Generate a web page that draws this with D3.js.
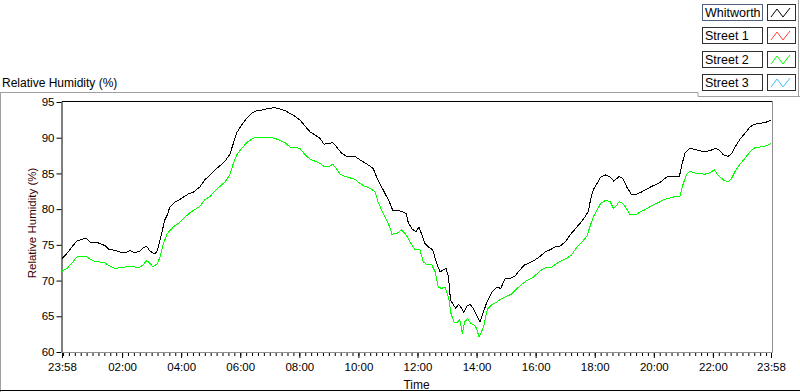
<!DOCTYPE html>
<html>
<head>
<meta charset="utf-8">
<script src="https://cdn.jsdelivr.net/npm/d3@7"></script>
<style>
  body { margin: 0; background: #fff; }
  svg { display: block; font-family: "Liberation Sans", Arial, sans-serif; }
  .axis path { display: none; }
</style>
</head>
<body>
<div id="rh_chart"></div>
<script>
// readings taken every ~10 min, start 23:58 and end 23:58 the next day
var whitworthTimes = ["23:58","00:08","00:18","00:28","00:38","00:47","00:55","01:05","01:15","01:25",
  "01:33","01:46","01:56","02:06","02:16","02:26","02:36","02:43","02:50","02:57",
  "03:07","03:12","03:17","03:22","03:27","03:32","03:37","03:48","03:58","04:14",
  "04:25","04:38","04:48","04:59","05:09","05:19","05:29","05:39","05:46","05:53",
  "06:03","06:13","06:23","06:33","06:47","06:57","07:11","07:21","07:31","07:41",
  "07:51","08:01","08:12","08:22","08:32","08:42","08:50","08:59","09:08","09:16",
  "09:26","09:36","09:53","10:03","10:13","10:24","10:30","10:37","10:45","10:54",
  "11:03","11:10","11:18","11:28","11:37","11:41","11:48","11:57","12:03","12:09",
  "12:15","12:22","12:31","12:38","12:46","12:52","12:58","13:03","13:07","13:13",
  "13:18","13:23","13:30","13:34","13:40","13:47","13:53","14:00","14:07","14:14",
  "14:21","14:31","14:41","14:49","14:58","15:08","15:18","15:28","15:38","15:48",
  "15:59","16:09","16:19","16:29","16:39","16:49","17:00","17:10","17:20","17:30",
  "17:40","17:47","17:52","17:57","18:04","18:12","18:21","18:31","18:39","18:45",
  "18:50","18:58","19:05","19:15","19:25","19:35","19:46","19:56","20:06","20:16",
  "20:26","20:40","20:52","20:57","21:03","21:13","21:27","21:44","21:54","22:06",
  "22:14","22:21","22:31","22:38","22:45","22:55","23:05","23:15","23:25","23:36",
  "23:49","23:58"];
var whitworthRH = [73.1,73.8,74.7,75.5,75.8,75.9,75.4,75.4,75.2,74.9,
  74.4,74.2,74.0,73.9,74.2,73.9,74.1,74.6,74.8,74.1,
  73.7,74.3,75.7,77.1,78.5,79.2,80.3,81.0,81.4,82.1,
  82.4,83.1,84.1,84.8,85.5,86.1,86.7,87.7,89.2,90.7,
  91.8,92.7,93.4,93.8,93.9,94.1,94.2,94.0,93.8,93.4,
  93.0,92.5,91.6,90.8,90.4,89.9,89.1,89.2,89.3,88.7,
  87.8,87.4,87.4,86.9,86.5,86.0,85.7,84.5,83.4,82.2,
  81.0,79.8,79.8,79.7,79.4,78.2,77.3,76.8,77.5,76.4,
  75.2,74.7,74.3,72.6,71.2,71.5,71.7,70.5,67.3,66.6,
  66.1,66.7,66.1,65.5,66.4,66.7,66.1,65.2,64.2,65.6,
  67.0,68.4,69.1,68.9,70.3,70.3,70.6,71.5,72.2,72.5,
  72.9,73.4,74.0,74.3,74.7,74.8,75.4,76.4,77.2,78.0,
  78.9,79.7,81.5,82.7,83.5,84.5,84.8,84.5,83.9,84.3,
  84.6,84.2,83.1,82.0,82.1,82.4,82.8,83.2,83.5,83.9,
  84.5,84.6,84.6,86.2,87.8,88.5,88.3,88.0,88.2,88.5,
  88.2,87.6,87.4,87.8,88.7,89.8,90.6,91.5,91.9,92.0,
  92.2,92.5];

var street2Times = ["23:58","00:08","00:18","00:28","00:38","00:47","00:55","01:05","01:15","01:25",
  "01:33","01:46","01:56","02:06","02:16","02:26","02:36","02:43","02:50","02:57",
  "03:03","03:12","03:17","03:24","03:32","03:44","03:58","04:08","04:18","04:38",
  "04:48","04:59","05:09","05:19","05:29","05:39","05:46","05:53","06:03","06:13",
  "06:23","06:33","06:44","06:57","07:11","07:21","07:31","07:41","07:51","08:01",
  "08:12","08:22","08:32","08:42","08:52","09:02","09:08","09:16","09:23","09:36",
  "09:53","10:03","10:13","10:24","10:34","10:40","10:47","10:54","11:03","11:08",
  "11:18","11:28","11:37","11:45","11:55","12:05","12:12","12:20","12:29","12:36",
  "12:42","12:49","12:56","13:03","13:08","13:14","13:21","13:26","13:31","13:36",
  "13:42","13:48","13:55","14:00","14:05","14:10","14:15","14:22","14:31","14:41",
  "14:51","15:01","15:11","15:21","15:32","15:42","15:52","16:02","16:12","16:22",
  "16:33","16:43","16:53","17:03","17:13","17:23","17:33","17:44","17:50","17:57",
  "18:04","18:12","18:21","18:31","18:38","18:43","18:50","18:58","19:05","19:12",
  "19:24","19:32","19:42","19:49","19:59","20:09","20:19","20:29","20:40","20:53",
  "20:59","21:06","21:13","21:27","21:44","21:54","22:03","22:10","22:21","22:31",
  "22:38","22:45","22:55","23:05","23:15","23:25","23:36","23:49","23:58"];
var street2RH = [71.3,71.7,72.4,73.3,73.4,73.4,73.0,72.7,72.6,72.5,
  72.1,71.7,71.8,71.9,72.0,71.9,71.9,72.2,72.8,72.4,
  71.9,72.4,73.3,75.2,76.6,77.5,78.2,78.9,79.5,80.4,
  81.3,81.8,82.6,83.2,83.8,84.8,86.4,87.6,88.5,89.3,
  89.8,90.1,90.1,90.1,89.9,89.6,89.3,88.7,88.7,88.5,
  87.6,87.0,86.7,86.4,85.9,86.0,86.3,85.6,84.9,84.5,
  84.2,83.6,83.2,82.9,82.4,81.0,79.9,78.9,77.6,76.5,
  76.6,77.1,76.4,75.4,74.3,74.3,72.6,72.2,72.2,71.2,
  69.1,68.9,69.1,67.7,65.4,64.2,64.2,64.5,62.6,64.2,
  64.7,64.0,63.8,63.3,62.1,62.8,63.8,66.0,66.6,67.0,
  67.5,67.8,68.1,68.8,69.5,70.0,70.3,70.9,71.5,71.9,
  71.9,72.4,72.8,73.1,73.6,74.6,75.3,76.2,77.5,78.9,
  79.8,80.8,81.2,81.1,80.1,80.4,81.1,80.7,80.0,79.2,
  79.2,79.6,79.9,80.2,80.6,80.9,81.3,81.5,81.7,81.8,
  83.4,84.8,85.3,85.0,84.9,85.1,85.5,84.8,84.1,83.8,
  84.3,85.3,86.3,87.1,88.0,88.6,88.7,88.9,89.2];

var legendNames = ["Whitworth", "Street 1", "Street 2", "Street 3"];
var legendColors = ["#000000", "#ff4040", "#00ff00", "#40c0ff"];
var yTicks = [60, 65, 70, 75, 80, 85, 90, 95];
var xTickHours = ["02:00","04:00","06:00","08:00","10:00","12:00","14:00","16:00","18:00","20:00","22:00"];

(function () {
    var width = 800, height = 392;
    var plot = { left: 62, right: 771, top: 102, bottom: 352 };

    var svg = d3.select('#rh_chart')
                .append('svg')
                .attr('width', width)
                .attr('height', height);

    // turn "HH:MM" strings into dates, rolling over midnight
    function toDates(times) {
        var day = 0, prev = -1;
        return times.map(function (t) {
            var p = t.split(':'), m = +p[0] * 60 + +p[1];
            if (m < prev) day++;
            prev = m;
            return new Date(2015, 0, 1 + day, +p[0], +p[1]);
        });
    }

    var wDates = toDates(whitworthTimes);
    var sDates = toDates(street2Times);
    var start = wDates[0], end = wDates[wDates.length - 1];

    var xScale = d3.scaleTime()
                   .domain([start, end])
                   .range([plot.left, plot.right]);
    var yScale = d3.scaleLinear()
                   .domain([60, 95])
                   .range([plot.bottom, plot.top]);

    // outer frame
    svg.append('line').attr('x1', 0).attr('x2', 698).attr('y1', 92.5).attr('y2', 92.5).style('stroke', '#a0a0a0');
    svg.append('line').attr('x1', 0.5).attr('x2', 0.5).attr('y1', 92).attr('y2', 392).style('stroke', '#a0a0a0');
    svg.append('line').attr('x1', 0).attr('x2', 800).attr('y1', 390.5).attr('y2', 390.5).style('stroke', '#000');

    svg.append('text')
       .attr('x', 2).attr('y', 87)
       .text('Relative Humidity (%)')
       .style('font-size', '12px')
       .style('fill', '#000');

    // legend panel
    svg.append('path')
       .attr('d', 'M698,92.5 V96.5 H800 M798.5,0 V96')
       .style('fill', 'none').style('stroke', '#a0a0a0');

    var legend = svg.selectAll('.legend')
                    .data(legendNames)
                    .enter()
                    .append('g')
                    .attr('class', 'legend')
                    .attr('transform', function (d, i) { return 'translate(0,' + Math.round(4 + i * 23.3) + ')'; });

    legend.append('rect')
          .attr('x', 702.5).attr('y', 0.5).attr('width', 60).attr('height', 16)
          .style('fill', '#fff')
          .style('stroke', function (d, i) { return i === 0 ? '#506080' : '#303030'; });
    legend.append('text')
          .attr('x', 705).attr('y', 13)
          .text(function (d) { return d; })
          .style('font-size', '12.5px');
    legend.append('rect')
          .attr('x', 767.5).attr('y', 0.5).attr('width', 28).attr('height', 16)
          .style('fill', '#fff').style('stroke', '#303030');
    legend.append('path')
          .attr('d', 'M771,13 L777,5 L783,13 L790,4')
          .style('fill', 'none')
          .style('stroke', function (d, i) { return legendColors[i]; });

    // plot frame
    svg.append('path')
       .attr('d', 'M' + plot.left + ',' + plot.bottom + ' V' + (plot.top - 0.5) + ' H' + (plot.right + 1.5))
       .style('fill', 'none').style('stroke', '#000');
    svg.append('path')
       .attr('d', 'M' + (plot.right + 1.5) + ',' + (plot.top - 0.5) + ' V' + (plot.bottom + 0.5) + ' H' + plot.left)
       .style('fill', 'none').style('stroke', '#909090');

    // y axis
    var yAxis = svg.append('g')
                   .attr('class', 'axis')
                   .attr('transform', 'translate(' + (plot.left - 0.5) + ',0)')
                   .call(d3.axisLeft(yScale).tickValues(yTicks).tickSize(5).tickPadding(2));
    yAxis.selectAll('text').style('font-size', '11.5px').style('fill', '#000').style('font-family', '"Liberation Sans", Arial, sans-serif');
    yAxis.selectAll('line').style('stroke', '#000');

    // x axis: minor every 12 min, labels at start, even hours and end
    var minor = d3.timeMinute.every(12).range(start, end);
    svg.append('g')
       .attr('class', 'axis')
       .attr('transform', 'translate(0,' + (plot.bottom + 1) + ')')
       .call(d3.axisBottom(xScale).tickValues(minor).tickSize(3).tickFormat(''))
       .selectAll('line').style('stroke', '#000');

    var majors = [start].concat(toDates(["23:58"].concat(xTickHours)).slice(1)).concat([end]);
    var xAxis = svg.append('g')
                   .attr('class', 'axis')
                   .attr('transform', 'translate(0,' + (plot.bottom + 1) + ')')
                   .call(d3.axisBottom(xScale).tickValues(majors).tickSize(5).tickPadding(5)
                           .tickFormat(d3.timeFormat('%H:%M')));
    xAxis.selectAll('text').style('font-size', '11.5px').style('fill', '#000').style('font-family', '"Liberation Sans", Arial, sans-serif');
    xAxis.selectAll('line').style('stroke', '#000');

    // axis titles
    svg.append('text')
       .attr('x', (plot.left + plot.right) / 2).attr('y', 389)
       .attr('text-anchor', 'middle')
       .text('Time')
       .style('font-size', '12px')
       .style('fill', '#200000');
    svg.append('text')
       .attr('transform', 'translate(36,' + ((plot.top + plot.bottom) / 2 - 4) + ') rotate(-90)')
       .attr('text-anchor', 'middle')
       .text('Relative Humidity (%)')
       .style('font-size', '11.5px')
       .style('fill', '#400000');

    // lines, drawn aliased like the original instrument plot
    var line = d3.line()
                 .x(function (d) { return xScale(d[0]); })
                 .y(function (d) { return yScale(d[1]); });

    svg.append('path')
       .datum(d3.zip(sDates, street2RH))
       .attr('d', line)
       .style('fill', 'none')
       .style('stroke', '#00ff00')
       .style('stroke-width', 1)
       .style('shape-rendering', 'crispEdges');

    svg.append('path')
       .datum(d3.zip(wDates, whitworthRH))
       .attr('d', line)
       .style('fill', 'none')
       .style('stroke', '#000')
       .style('stroke-width', 1)
       .style('shape-rendering', 'crispEdges');
})();
</script>
</body>
</html>
